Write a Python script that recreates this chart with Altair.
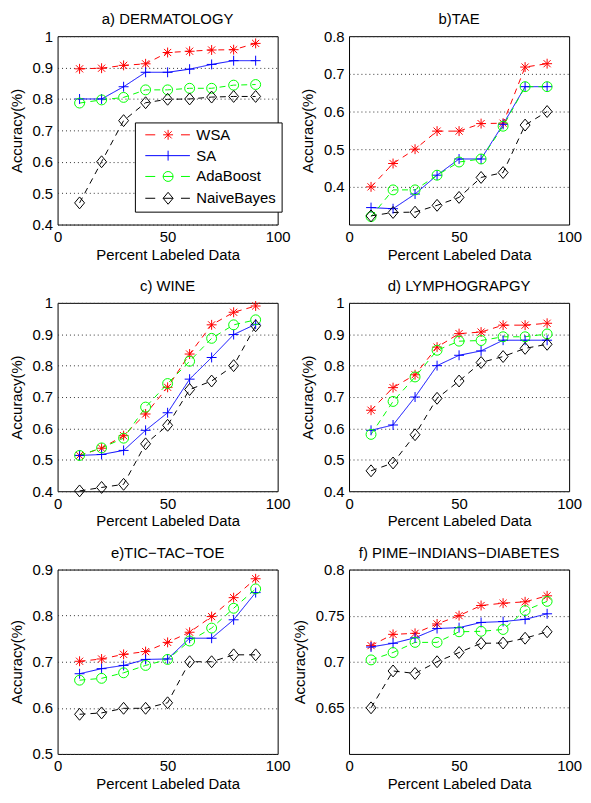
import altair as alt
import pandas as pd

# ---------------- data ----------------
x_pct = [10, 20, 30, 40, 50, 60, 70, 80, 90]
series_names = ["WSA", "SA", "AdaBoost", "NaiveBayes"]

derm_wsa = [0.896, 0.898, 0.907, 0.912, 0.948, 0.952, 0.956, 0.957, 0.977]
derm_sa = [0.800, 0.800, 0.839, 0.885, 0.885, 0.895, 0.910, 0.922, 0.922]
derm_ada = [0.787, 0.797, 0.805, 0.829, 0.829, 0.834, 0.834, 0.844, 0.846]
derm_nb = [0.469, 0.600, 0.731, 0.788, 0.799, 0.800, 0.806, 0.808, 0.808]

tae_wsa = [0.400, 0.462, 0.500, 0.548, 0.548, 0.568, 0.569, 0.718, 0.727]
tae_sa = [0.345, 0.342, 0.381, 0.431, 0.474, 0.474, 0.566, 0.666, 0.666]
tae_ada = [0.321, 0.392, 0.392, 0.431, 0.466, 0.474, 0.561, 0.666, 0.666]
tae_nb = [0.323, 0.332, 0.333, 0.351, 0.372, 0.425, 0.438, 0.564, 0.600]

wine_wsa = [0.514, 0.537, 0.577, 0.646, 0.731, 0.837, 0.930, 0.970, 0.990]
wine_sa = [0.514, 0.517, 0.530, 0.594, 0.650, 0.757, 0.826, 0.899, 0.932]
wine_ada = [0.514, 0.538, 0.569, 0.668, 0.743, 0.814, 0.887, 0.930, 0.946]
wine_nb = [0.401, 0.412, 0.422, 0.551, 0.610, 0.724, 0.751, 0.800, 0.927]

lymph_wsa = [0.658, 0.730, 0.771, 0.859, 0.902, 0.907, 0.929, 0.929, 0.935]
lymph_sa = [0.594, 0.611, 0.700, 0.800, 0.833, 0.847, 0.881, 0.881, 0.881]
lymph_ada = [0.581, 0.686, 0.764, 0.849, 0.878, 0.880, 0.892, 0.892, 0.901]
lymph_nb = [0.465, 0.490, 0.580, 0.696, 0.751, 0.810, 0.829, 0.855, 0.868]

ttt_wsa = [0.701, 0.706, 0.716, 0.722, 0.742, 0.764, 0.798, 0.839, 0.880]
ttt_sa = [0.674, 0.685, 0.692, 0.705, 0.706, 0.751, 0.751, 0.791, 0.850]
ttt_ada = [0.660, 0.664, 0.676, 0.692, 0.705, 0.745, 0.773, 0.816, 0.858]
ttt_nb = [0.586, 0.589, 0.599, 0.599, 0.611, 0.700, 0.700, 0.715, 0.715]

pima_wsa = [0.7175, 0.7297, 0.7308, 0.7410, 0.7500, 0.7610, 0.7635, 0.7650, 0.7715]
pima_sa = [0.7160, 0.7200, 0.7260, 0.7360, 0.7370, 0.7426, 0.7436, 0.7460, 0.7520]
pima_ada = [0.7020, 0.7100, 0.7210, 0.7210, 0.7325, 0.7330, 0.7350, 0.7555, 0.7655]
pima_nb = [0.6500, 0.6900, 0.6873, 0.7000, 0.7100, 0.7200, 0.7203, 0.7255, 0.7325]

# ---------------- styling ----------------
FONT = "Liberation Sans"
colors = ["#ff0000", "#0000ff", "#00ff00", "#000000"]
DASH = [6, 5]
SOLID = [1, 0]
PW = 222

marker_paths = [
    "M -1 0 L 1 0 M 0 -1 L 0 1 M -0.72 -0.72 L 0.72 0.72 M -0.72 0.72 L 0.72 -0.72",
    "M -1 0 L 1 0 M 0 -1 L 0 1",
    "circle",
    "M 0 -1.2 L 1 0 L 0 1.2 L -1 0 Z",
]
legend_paths = [
    "M -5.75 0 L -3.25 0 M 3.25 0 L 5.5 0 M -1.25 0 L 1.25 0 M 0 -1.25 L 0 1.25 "
    "M -0.9 -0.9 L 0.9 0.9 M -0.9 0.9 L 0.9 -0.9",
    "M -5.75 0 L 5.5 0 M 0 -1.25 L 0 1.25",
    "M -5.75 0 L -3.25 0 M 3.25 0 L 5.5 0 M -1.25 0 L 1.25 0 "
    "M 1.25 0 A 1.25 1.25 0 1 1 -1.25 0 A 1.25 1.25 0 1 1 1.25 0",
    "M -5.75 0 L -3.25 0 M 3.25 0 L 5.5 0 M -1.25 0 L 1.25 0 "
    "M 0 -1.5 L 1.25 0 L 0 1.5 L -1.25 0 Z",
]


def panel(title, values, ydomain, yticks, dashes, height=190, legend=False):
    rows = []
    for s, vals in zip(series_names, values):
        for xv, yv in zip(x_pct, vals):
            rows.append({"x": xv, "y": yv, "series": s})
    df = pd.DataFrame(rows)
    base = alt.Chart(df).encode(
        x=alt.X("x:Q", scale=alt.Scale(domain=[0, 100], nice=False),
                axis=alt.Axis(values=[0, 50, 100], title="Percent Labeled Data",
                              grid=False, labelPadding=5, titlePadding=3,
                              labelFlush=False)),
        y=alt.Y("y:Q", scale=alt.Scale(domain=ydomain, nice=False, zero=False),
                axis=alt.Axis(values=yticks, title="Accuracy(%)", format="~g",
                              grid=True, gridDash=[1, 3], gridColor="#333333",
                              labelPadding=5, titlePadding=8, labelFlush=False)),
    )
    stroke = alt.Stroke("series:N", scale=alt.Scale(domain=series_names, range=colors),
                        legend=None)
    lines = base.mark_line(strokeWidth=1).encode(
        stroke=stroke,
        strokeDash=alt.StrokeDash("series:N",
                                  scale=alt.Scale(domain=series_names, range=dashes),
                                  legend=None),
        order="x:Q",
    )
    pts = base.mark_point(filled=False, strokeWidth=1, size=100, opacity=1).encode(
        stroke=stroke,
        shape=alt.Shape("series:N", scale=alt.Scale(domain=series_names, range=marker_paths),
                        legend=None),
    )
    layers = [lines, pts]
    if legend:
        lg = dict(orient="none", legendX=78, legendY=87, title=None, padding=5,
                  strokeColor="black", fillColor="white", labelFont=FONT,
                  labelFontSize=15, labelColor="black", symbolSize=64,
                  symbolStrokeWidth=1, symbolOffset=21, labelOffset=21,
                  rowPadding=5, cornerRadius=0, symbolOpacity=1)
        leg = base.mark_point(filled=False, strokeWidth=1).encode(
            stroke=alt.Stroke("series:N",
                              scale=alt.Scale(domain=series_names, range=colors),
                              legend=alt.Legend(**lg)),
            shape=alt.Shape("series:N",
                            scale=alt.Scale(domain=series_names, range=legend_paths),
                            legend=alt.Legend(**lg)),
        ).transform_filter("false")
        layers.append(leg)
    ch = alt.layer(*layers).properties(
        width=PW, height=height,
        title=alt.TitleParams(title, fontSize=15, fontWeight="normal", font=FONT,
                              anchor="middle", frame="group", offset=2, color="black"),
    )
    if legend:
        ch = ch.resolve_scale(shape="independent", stroke="independent")
    return ch


std = [DASH, SOLID, DASH, DASH]
pa = panel("a) DERMATOLOGY", [derm_wsa, derm_sa, derm_ada, derm_nb], [0.4, 1.0],
           [0.4, 0.5, 0.6, 0.7, 0.8, 0.9, 1.0], std, legend=True)
pb = panel("b)TAE", [tae_wsa, tae_sa, tae_ada, tae_nb], [0.3, 0.8],
           [0.4, 0.5, 0.6, 0.7, 0.8], [SOLID, DASH, DASH, DASH])
pc = panel("c) WINE", [wine_wsa, wine_sa, wine_ada, wine_nb], [0.4, 1.0],
           [0.4, 0.5, 0.6, 0.7, 0.8, 0.9, 1.0], std)
pd_ = panel("d) LYMPHOGRAPGY", [lymph_wsa, lymph_sa, lymph_ada, lymph_nb], [0.4, 1.0],
            [0.4, 0.5, 0.6, 0.7, 0.8, 0.9, 1.0], std)
pe = panel("e)TIC\u2212TAC\u2212TOE", [ttt_wsa, ttt_sa, ttt_ada, ttt_nb], [0.5, 0.9],
           [0.5, 0.6, 0.7, 0.8, 0.9], std, height=186)
pf = panel("f) PIME\u2212INDIANS\u2212DIABETES", [pima_wsa, pima_sa, pima_ada, pima_nb],
           [0.6, 0.8], [0.65, 0.7, 0.75, 0.8], std, height=186)

chart = alt.vconcat(
    alt.hconcat(pa, pb, spacing=8),
    alt.hconcat(pc, pd_, spacing=8),
    alt.hconcat(pe, pf, spacing=0),
    spacing=15,
).properties(
    padding=0
).configure(
    background="white"
).configure_view(
    stroke="black", strokeWidth=1
).configure_axis(
    labelFont=FONT, titleFont=FONT, labelFontSize=15, titleFontSize=15,
    titleFontWeight="normal", labelColor="black", titleColor="black",
    ticks=False, domain=False,
)

chart.save("out.html", embed_options={"renderer": "svg", "actions": False})
